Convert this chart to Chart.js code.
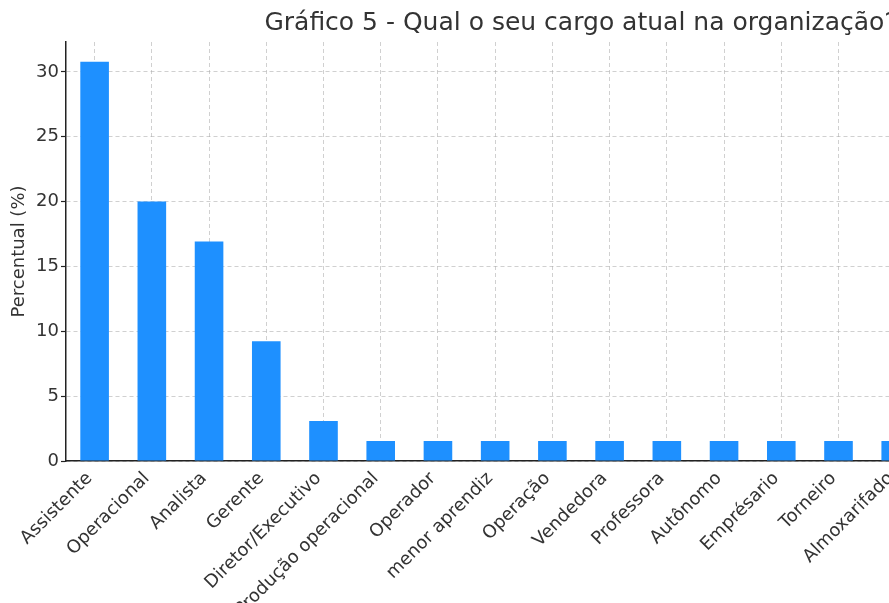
<!DOCTYPE html>
<html>
<head>
<meta charset="utf-8">
<script src="https://cdn.jsdelivr.net/npm/chart.js@4"></script>
<style>
  html, body { margin: 0; padding: 0; background: #fff; overflow: hidden; }
  canvas { display: block; }
</style>
</head>
<body>
<canvas id="chart" width="1120" height="700"></canvas>
<script>
// chart data (the last three categories fall outside the cropped picture)
const cargos = [
    'Assistente', 'Operacional', 'Analista', 'Gerente', 'Diretor/Executivo',
    'Produção operacional', 'Operador', 'menor aprendiz', 'Operação', 'Vendedora',
    'Professora', 'Autônomo', 'Emprésario', 'Torneiro', 'Almoxarifado',
    '', '', ''
];
const percentuais = [
    30.77, 20.0, 16.92, 9.23, 3.08,
    1.54, 1.54, 1.54, 1.54, 1.54,
    1.54, 1.54, 1.54, 1.54, 1.54,
    1.54, 1.54, 1.54
];
const yTicks = [0, 5, 10, 15, 20, 25, 30];

const textColor = '#333333';
const axisColor = '#222222';
const gridColor = 'rgba(170, 170, 170, 0.55)';
const fontFamily = 'DejaVu Sans, sans-serif';

const ctx = document.getElementById('chart').getContext('2d');

const chart = new Chart(ctx, {
    type: 'bar',
    data: {
        labels: cargos,
        datasets: [
            {
                label: 'Percentual (%)',
                data: percentuais,
                backgroundColor: '#1e90ff',
                borderWidth: 0,
                categoryPercentage: 1.0,
                barPercentage: 0.5
            }
        ]
    },
    options: {
        responsive: false,
        animation: false,
        layout: {
            padding: { left: 0, right: 24, top: 0, bottom: 0 }
        },
        plugins: {
            legend: { display: false },
            tooltip: { enabled: false },
            title: {
                display: true,
                text: 'Gráfico 5 - Qual o seu cargo atual na organização?',
                color: textColor,
                fullSize: false,
                font: { family: fontFamily, size: 25, weight: 'normal' },
                padding: { top: 8, bottom: 4 }
            }
        },
        scales: {
            x: {
                z: 1,
                grid: {
                    offset: false,
                    color: gridColor,
                    lineWidth: 1,
                    drawTicks: false
                },
                border: { display: true, color: axisColor, width: 1.5, dash: [4, 3] },
                ticks: {
                    color: textColor,
                    font: { family: fontFamily, size: 18 },
                    minRotation: 45,
                    maxRotation: 45,
                    autoSkip: false,
                    padding: 7,
                    labelOffset: -5
                },
                afterFit: (scale) => { scale.height = 239; }
            },
            y: {
                z: 1,
                min: 0,
                max: 32.3,
                grid: {
                    color: gridColor,
                    lineWidth: 1,
                    drawTicks: true,
                    tickLength: 5,
                    tickColor: axisColor,
                    tickWidth: 1.2
                },
                border: { display: true, color: axisColor, width: 1.5, dash: [4, 3] },
                ticks: {
                    stepSize: 5,
                    includeBounds: false,
                    color: textColor,
                    font: { family: fontFamily, size: 18 },
                    padding: 2,
                    callback: (value) => yTicks.includes(value) ? value : ''
                },
                title: {
                    display: true,
                    text: 'Percentual (%)',
                    color: textColor,
                    font: { family: fontFamily, size: 18 },
                    padding: { top: 9, bottom: 4 }
                },
                afterFit: (scale) => { scale.width = 66; }
            }
        }
    }
});
</script>
</body>
</html>
